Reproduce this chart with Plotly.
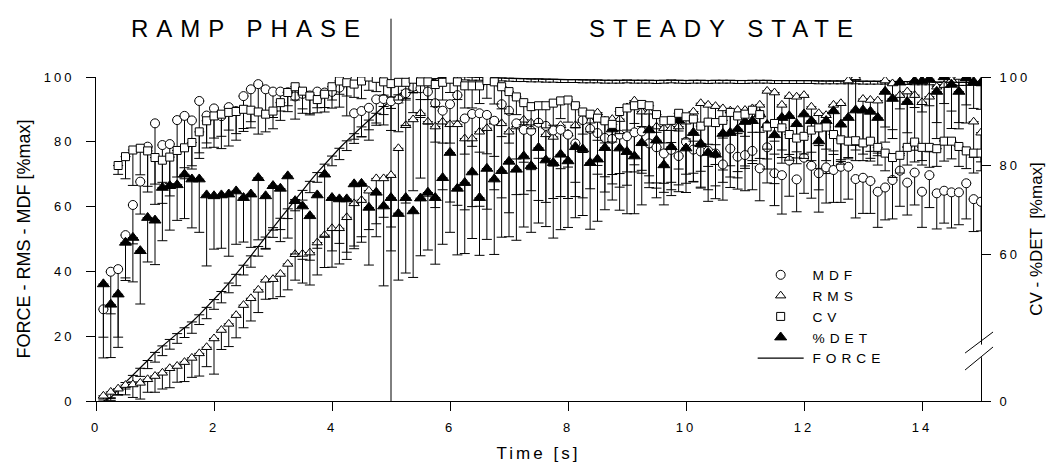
import numpy as np
import plotly.graph_objects as go

# ---------------- data ----------------
TIME = np.round(np.arange(1, 121) * 0.125, 3)  # sampling grid, 0.125 s

FORCE = [0.0, 1.0, 3.5, 5.7, 7.9, 10.1, 12.5, 15.0, 17.0, 19.0,
         20.8, 22.6, 24.4, 26.6, 28.9, 31.3, 33.8, 36.4, 39.1, 41.9,
         44.8, 47.7, 50.6, 53.5, 56.4, 59.3, 62.2, 65.0, 67.8, 70.5,
         73.1, 75.6, 78.0, 80.3, 82.5, 84.6, 86.7, 88.8, 90.9, 92.8,
         94.5, 95.9, 97.1, 98.1, 98.9, 99.5, 99.9, 100.1, 100.2, 100.1,
         100.0, 99.9, 99.8, 99.7, 99.7, 99.6, 99.5, 99.5, 99.4, 99.4,
         99.3, 99.3, 99.2, 99.2, 99.2, 99.1, 99.1, 99.1, 99.0, 99.0,
         99.0, 99.1, 99.0, 99.0, 99.0, 98.9, 99.0, 99.1, 99.0, 98.9,
         99.0, 99.0, 98.9, 99.0, 99.0, 99.0, 98.9, 98.9, 99.0, 99.0,
         99.0, 98.9, 98.9, 98.9, 98.9, 98.9, 98.9, 98.8, 98.8, 98.8,
         98.8, 98.8, 98.8, 98.7, 98.7, 98.7, 98.7, 98.6, 98.6, 98.6,
         98.5, 98.5, 98.5, 98.4, 98.4, 98.4, 98.3, 98.3, 98.3, 98.2]
FORCE_SD = [0.3, 0.8, 1.5, 2.0, 2.0, 2.5, 2.5, 3.0, 3.0, 3.0,
            3.0, 3.0, 3.5, 3.0, 3.5, 3.0, 3.5, 3.0, 3.5, 3.0,
            3.5, 3.0, 3.5, 3.0, 3.5, 3.0, 3.5, 3.0, 3.5, 3.0,
            3.5, 3.0, 3.5, 3.0, 3.0, 3.0, 3.0, 3.0, 2.5, 2.5,
            2.5, 2.5, 2.0, 2.0, 1.5, 1.5, 1.0, 1.0, 1.0, 1.0,
            1.0, 0.9, 0.9, 0.9, 0.9, 0.9, 0.9, 0.9, 0.9, 0.9,
            0.9, 0.9, 0.9, 0.9, 0.9, 0.9, 0.9, 0.9, 0.9, 0.9,
            0.9, 0.9, 0.9, 0.9, 0.9, 0.9, 0.9, 0.9, 0.9, 0.9,
            0.9, 0.9, 0.9, 0.9, 0.9, 0.9, 0.9, 0.9, 0.9, 0.9,
            0.9, 0.9, 0.9, 0.9, 0.9, 0.9, 0.9, 0.9, 0.9, 0.9,
            0.9, 0.9, 0.9, 0.9, 0.9, 0.9, 0.9, 0.9, 0.9, 0.9,
            0.9, 0.9, 0.9, 0.9, 0.9, 0.9, 0.9, 0.9, 0.9, 0.9]

MDF = [28.3, 39.9, 40.7, 51.2, 60.5, 67.7, 78.5, 85.7, 79.0, 79.3,
       86.7, 88.0, 86.6, 92.6, 88.1, 90.3, 87.9, 90.7, 89.5, 94.1,
       96.2, 97.8, 96.2, 95.5, 95.5, 95.3, 94.0, 94.8, 94.3, 95.5,
       95.2, 95.4, 96.7, 100.0, 88.8, 89.5, 90.5, 93.1, 93.2, 92.5,
       93.1, 95.0, 97.0, 96.5, 95.5, 91.9, 89.6, 91.6, 94.4, 87.2,
       88.6, 88.8, 88.3, 86.5, 91.6, 89.6, 85.7, 83.7, 83.4, 85.9,
       84.9, 83.5, 83.7, 82.2, 79.5, 86.7, 84.0, 82.7, 81.2, 80.9,
       82.2, 81.7, 82.9, 83.2, 79.5, 78.3, 76.4, 77.5, 75.6, 80.0,
       77.6, 77.0, 77.2, 76.4, 73.0, 77.9, 75.4, 75.9, 77.2, 71.8,
       78.3, 70.3, 69.7, 74.2, 68.4, 75.1, 72.6, 70.3, 72.1, 71.3,
       72.3, 72.3, 68.5, 68.9, 67.9, 64.6, 65.9, 68.2, 71.1, 67.4,
       70.5, 64.6, 69.7, 64.1, 64.9, 64.4, 64.4, 67.2, 62.3, 61.5]
MDF_SD = [15, 13, 21, 14, 12, 10, 14, 25, 18, 16,
          20, 16, 14, 16, 10, 12, 10, 12, 9, 10,
          10, 8, 7, 8, 6, 6, 7, 6, 6, 5,
          6, 5, 6, 12, 8, 8, 10, 8, 8, 9,
          10, 10, 8, 9, 10, 12, 10, 12, 8, 11,
          10, 12, 12, 11, 10, 10, 11, 10, 12, 11,
          10, 11, 12, 10, 12, 10, 11, 10, 12, 11,
          12, 11, 10, 12, 10, 11, 12, 10, 11, 10,
          10, 11, 12, 10, 11, 12, 10, 11, 12, 10,
          11, 10, 12, 11, 10, 11, 10, 12, 11, 10,
          11, 10, 12, 11, 10, 11, 10, 12, 11, 10,
          10, 11, 10, 11, 10, 11, 10, 11, 10, 9]

RMS = [1.6, 2.8, 3.8, 4.9, 5.1, 5.6, 6.7, 7.7, 8.7, 10.1,
       10.8, 12.0, 13.3, 14.7, 16.6, 19.3, 21.9, 23.8, 26.5, 29.6,
       31.7, 34.3, 37.4, 37.6, 39.2, 42.3, 45.3, 45.4, 45.8, 48.9,
       51.2, 53.3, 53.3, 56.7, 61.0, 62.0, 64.9, 68.7, 68.7, 69.7,
       78.0, 85.1, 86.9, 88.8, 86.2, 84.7, 86.2, 85.4, 85.4, 81.0,
       81.0, 83.1, 84.2, 86.2, 85.7, 83.1, 84.7, 86.8, 85.9, 85.9,
       82.3, 81.5, 85.1, 82.5, 85.1, 86.7, 86.5, 89.0, 86.5, 87.0,
       87.0, 90.6, 92.7, 89.3, 89.3, 84.7, 84.2, 84.2, 84.7, 86.2,
       89.3, 91.9, 91.4, 91.0, 90.3, 89.6, 89.8, 89.8, 90.3, 91.4,
       95.7, 95.2, 91.4, 94.1, 93.9, 94.4, 90.8, 88.8, 88.2, 91.4,
       91.9, 98.9, 99.9, 93.2, 92.9, 92.7, 98.9, 98.0, 94.4, 95.5,
       94.4, 92.2, 93.9, 97.0, 97.5, 99.1, 100.0, 99.8, 86.2, 82.8]
RMS_SD = [1, 2, 2, 3, 4, 5, 4, 5, 5, 6,
          5, 6, 6, 7, 6, 11, 6, 7, 7, 7,
          7, 7, 6, 6, 7, 8, 8, 9, 10, 10,
          10, 12, 11, 13, 14, 13, 12, 14, 12, 16,
          20, 24, 22, 20, 23, 25, 21, 24, 25, 22,
          21, 23, 25, 21, 23, 25, 21, 23, 21, 24,
          21, 19, 22, 20, 22, 24, 21, 19, 22, 20,
          21, 24, 22, 19, 22, 19, 17, 19, 18, 19,
          19, 21, 19, 18, 19, 17, 19, 18, 17, 19,
          21, 19, 18, 19, 17, 19, 18, 17, 18, 19,
          18, 19, 21, 17, 18, 17, 19, 17, 18, 17,
          17, 18, 17, 16, 17, 15, 16, 14, 11, 9]

CV = [None, None, 80.0, 82.0, 83.5, 83.9, 83.3, 81.8, 81.2, 81.9,
      83.4, 84.0, 85.2, 87.6, 90.1, 91.2, 91.6, 92.0, 92.2, 92.7,
      92.5, 92.1, 91.6, 92.3, 94.2, 96.5, 97.8, 96.8, 95.7, 94.9,
      96.1, 97.8, 99.1, 98.7, 98.4, 99.1, 100.0, 99.7, 98.9, 98.5,
      98.8, 98.8, 99.5, 98.9, 98.9, 98.3, 98.8, 99.5, 98.9, 98.0,
      98.0, 98.0, 99.2, 98.9, 97.8, 96.7, 95.5, 94.2, 93.3, 93.5,
      93.5, 94.1, 94.6, 94.8, 93.5, 92.1, 91.6, 90.7, 90.1, 89.3,
      92.2, 93.0, 93.5, 93.8, 93.5, 91.5, 90.1, 90.2, 91.8, 91.0,
      90.5, 88.9, 89.8, 89.7, 90.2, 92.0, 91.2, 91.6, 92.5, 91.5,
      88.7, 89.5, 88.5, 87.0, 86.2, 86.6, 88.0, 88.5, 88.7, 87.0,
      85.8, 85.5, 85.6, 85.1, 85.5, 84.1, 82.8, 81.8, 82.3, 84.1,
      85.3, 84.1, 84.1, 83.8, 85.5, 85.5, 84.3, 83.3, 82.8, 82.8]
CV_SD = [0, 0, 2, 5, 8, 6, 8, 6, 5, 6,
         6, 7, 6, 6, 5, 5, 5, 4, 5, 5,
         4, 5, 4, 4, 4, 3, 3, 4, 4, 3,
         3, 3, 3, 3, 3, 4, 3, 3, 3, 3,
         4, 4, 3, 4, 4, 5, 4, 3, 4, 5,
         5, 4, 4, 5, 5, 5, 4, 5, 5, 4,
         5, 5, 4, 5, 5, 5, 4, 5, 5, 4,
         5, 5, 4, 5, 5, 4, 5, 5, 4, 5,
         5, 4, 5, 5, 4, 5, 4, 5, 5, 4,
         5, 4, 5, 4.5, 4.5, 4, 5, 4, 5, 4.5,
         4.5, 4, 4.5, 4, 4.5, 4, 4, 4.5, 4, 4,
         4.5, 4, 4.5, 4, 4.5, 4, 4.5, 4, 4.5, 4]

DET = [53.2, 48.6, 50.9, 62.6, 63.7, 60.7, 68.2, 67.6, 75.0, 75.4,
       75.6, 78.0, 76.9, 76.9, 73.3, 73.1, 73.3, 73.5, 74.2, 72.7,
       73.5, 77.2, 73.1, 75.4, 74.8, 77.6, 72.0, 70.8, 68.6, 73.3,
       78.0, 72.7, 72.4, 72.4, 75.8, 75.9, 70.5, 73.9, 70.8, 72.7,
       69.1, 72.7, 69.7, 72.6, 73.9, 72.7, 77.2, 82.9, 74.8, 76.1,
       78.5, 72.7, 79.3, 76.9, 78.8, 80.9, 79.1, 82.1, 79.9, 84.0,
       81.2, 80.6, 82.5, 81.0, 84.2, 83.7, 80.6, 81.4, 84.0, 88.2,
       83.9, 83.1, 82.1, 85.1, 88.0, 85.7, 80.1, 84.2, 90.2, 83.9,
       87.4, 84.9, 82.9, 82.5, 87.2, 87.4, 88.2, 89.9, 90.1, 91.6,
       89.2, 86.9, 90.8, 91.2, 89.4, 91.6, 90.1, 85.5, 90.1, 92.3,
       89.3, 90.8, 92.5, 92.5, 92.2, 90.8, 96.7, 95.1, 98.8, 94.4,
       99.1, 99.1, 99.5, 96.7, 100.0, 98.3, 96.7, 99.7, 98.9, 98.7]
DET_SD = [12, 12, 12, 8, 10, 12, 10, 10, 12, 10,
          8, 10, 11, 12, 16, 12, 12, 14, 12, 10,
          12, 14, 12, 10, 12, 14, 12, 12, 10, 12,
          14, 12, 10, 12, 14, 12, 13, 10, 18, 12,
          15, 17, 15, 13, 13, 15, 15, 18, 15, 16,
          15, 13, 16, 17, 15, 17, 16, 16, 15, 17,
          15, 17, 17, 15, 16, 15, 15, 14, 14, 16,
          14, 14, 13, 14, 13, 13, 9, 11, 11, 10,
          11, 10, 11, 10, 11, 10, 11, 10, 9, 10,
          10, 11, 9, 10, 9, 10, 9, 11, 9, 9,
          9, 9, 9, 8, 9, 8, 8, 7, 6, 7,
          6, 7, 6, 7, 6, 6, 7, 6, 6, 6]

X_TICKS = [0, 2, 4, 6, 8, 10, 12, 14]
Y_TICKS = [0, 20, 40, 60, 80, 100]
Y2_BOTTOM = 26.78          # broken right axis: its bottom is labelled "0"
Y2_TICKS = [Y2_BOTTOM, 60, 80, 100]
Y2_LABELS = ["0", "60", "80", "100"]

PHASE_SPLIT = 5  # s

# ---------------- styling ----------------
FONT = "Liberation Sans, Arial, Helvetica, sans-serif"


def spaced(txt, px):
    return '<span style="letter-spacing:%spx">%s</span>' % (px, txt)


def err(sd):
    return dict(type="data", symmetric=False, array=[0] * len(sd),
                arrayminus=[0 if v is None else v for v in sd],
                color="#000", thickness=1, width=5)


def legend_name(txt):
    return "&nbsp;" + spaced(txt, 5)


fig = go.Figure()

fig.add_trace(go.Scatter(
    x=TIME, y=FORCE, mode="lines", name=legend_name("FORCE"), legendrank=5,
    line=dict(color="#000", width=1.2), error_y=err(FORCE_SD)))

fig.add_trace(go.Scatter(
    x=TIME, y=DET, mode="markers", name=legend_name("%DET"), legendrank=4, yaxis="y2",
    marker=dict(symbol="triangle-up", size=10.5, color="#000",
                line=dict(color="#000", width=1)),
    error_y=err(DET_SD)))

fig.add_trace(go.Scatter(
    x=TIME, y=CV, mode="markers", name=legend_name("CV"), legendrank=3, yaxis="y2",
    marker=dict(symbol="square", size=8, color="#fff",
                line=dict(color="#000", width=1)),
    error_y=err(CV_SD)))

fig.add_trace(go.Scatter(
    x=TIME, y=RMS, mode="markers", name=legend_name("RMS"), legendrank=2,
    marker=dict(symbol="triangle-up", size=9, color="#fff",
                line=dict(color="#000", width=1)),
    error_y=err(RMS_SD)))

fig.add_trace(go.Scatter(
    x=TIME, y=MDF, mode="markers", name=legend_name("MDF"), legendrank=1,
    marker=dict(symbol="circle", size=9, color="#fff",
                line=dict(color="#000", width=1)),
    error_y=err(MDF_SD)))

axis_common = dict(showline=True, linecolor="#000", linewidth=1, ticks="outside",
                   ticklen=9, tickwidth=1, tickcolor="#000", showgrid=False,
                   zeroline=False, automargin=False,
                   tickfont=dict(family=FONT, size=13, color="#000"))

fig.update_layout(
    width=1052, height=463, autosize=False,
    margin=dict(l=96, r=71, t=77, b=62),
    paper_bgcolor="#fff", plot_bgcolor="#fff",
    font=dict(family=FONT, color="#000"),
    hovermode=False,
    xaxis=dict(range=[0, 15], tickmode="array", tickvals=X_TICKS,
               ticktext=[spaced(str(v), 3) for v in X_TICKS], ticklabelstandoff=5,
               title=dict(text=spaced("Time [s]", 3), font=dict(size=17), standoff=22),
               **axis_common),
    yaxis=dict(range=[0, 100], tickmode="array", tickvals=Y_TICKS,
               ticktext=[spaced(str(v), 3) for v in Y_TICKS], ticklabelstandoff=9,
               title=dict(text="FORCE - RMS - MDF [%max]",
                          font=dict(size=18), standoff=8),
               **axis_common),
    yaxis2=dict(range=[Y2_BOTTOM, 100], overlaying="y", side="right",
                tickmode="array", tickvals=Y2_TICKS,
                ticktext=[spaced(t, 3) for t in Y2_LABELS], ticklabelstandoff=6,
                title=dict(text="CV - %DET  [%max]", font=dict(size=17), standoff=0),
                **axis_common),
    legend=dict(x=0.742, y=0.437, xanchor="left", yanchor="top",
                bgcolor="rgba(0,0,0,0)", borderwidth=0, itemwidth=46,
                font=dict(family=FONT, size=13.7, color="#000"),
                traceorder="normal"),
    showlegend=True,
)

# phase divider and phase titles
fig.add_shape(type="line", xref="x", yref="paper", x0=PHASE_SPLIT, x1=PHASE_SPLIT,
              y0=0, y1=1.18, line=dict(color="#000", width=1), layer="below")
fig.add_annotation(xref="paper", yref="paper", x=0.173, y=1.151, showarrow=False,
                   text=spaced("RAMP PHASE", 8), font=dict(size=24, family=FONT, color="#000"),
                   xanchor="center", yanchor="middle")
fig.add_annotation(xref="paper", yref="paper", x=0.711, y=1.151, showarrow=False,
                   text=spaced("STEADY STATE", 8), font=dict(size=24, family=FONT, color="#000"),
                   xanchor="center", yanchor="middle")

# axis-break marks on the right axis
fig.add_shape(type="line", xref="paper", yref="paper", x0=1.0, x1=1.0,
              y0=0.135, y1=0.174, line=dict(color="#fff", width=3), layer="above")
fig.add_shape(type="line", xref="paper", yref="paper", x0=0.982, x1=1.0136,
              y0=0.148, y1=0.213, line=dict(color="#000", width=1), layer="above")
fig.add_shape(type="line", xref="paper", yref="paper", x0=0.982, x1=1.0136,
              y0=0.0957, y1=0.1667, line=dict(color="#000", width=1), layer="above")

fig.write_html("out.html", config={"displayModeBar": False})
